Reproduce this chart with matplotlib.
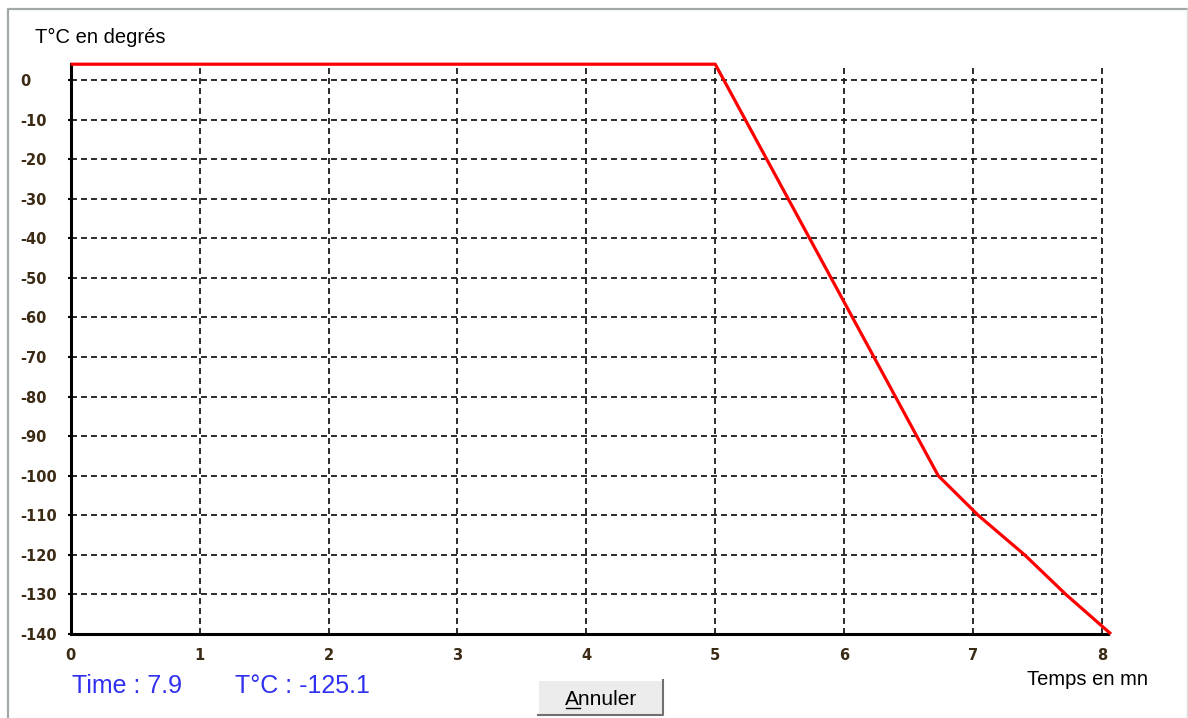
import matplotlib
matplotlib.use("Agg")
import matplotlib.pyplot as plt
from matplotlib.lines import Line2D
from matplotlib.patches import Rectangle

# courbe de temperature (temps en mn, T en degres)
temps = [0, 5.0, 6.73, 7.04, 7.40, 7.72, 8.07]
temperature = [4, 4, -100, -110, -120, -130, -140]

x_ticks = [0, 1, 2, 3, 4, 5, 6, 7, 8]
y_ticks = [0, -10, -20, -30, -40, -50, -60, -70, -80, -90, -100, -110, -120, -130, -140]

time_courant = 7.9
temp_courante = -125.1

plt.rcParams['lines.scale_dashes'] = False
W, H = 1188, 718
fig = plt.figure(figsize=(W / 100, H / 100), dpi=100)
fig.patch.set_facecolor('white')

ax = fig.add_axes([70.7 / W, 1 - 634 / H, 1037.7 / W, 569.8 / H])
ax.set_xlim(0, 8.05)
ax.set_ylim(-140, 4)

# grille en pointilles
ax.hlines([v for v in y_ticks if v > -140], 0, 8, colors='#1a1a1a', lw=1.3,
          linestyles=(0, (4.3, 2.9)), zorder=1)
ax.vlines([v for v in x_ticks if v > 0], -140, 4, colors='#1a1a1a', lw=1.3,
          linestyles=(0, (4.3, 2.9)), zorder=1)

ax.plot(temps, temperature, color='#ff0000', lw=2.3, clip_on=False, zorder=3,
        solid_capstyle='butt')

for s in ['top', 'right']:
    ax.spines[s].set_visible(False)
for s in ['left', 'bottom']:
    ax.spines[s].set_linewidth(2.2)
    ax.spines[s].set_color('black')
    ax.spines[s].set_zorder(2)

lab_col = '#3b2a14'
ax.set_xticks(x_ticks)
ax.set_xticklabels([str(v) for v in x_ticks], fontsize=10.5, color=lab_col,
                   family='DejaVu Sans', weight='bold')
ax.set_yticks(y_ticks)
ax.set_yticklabels([str(v) for v in y_ticks], fontsize=10.5, color=lab_col,
                   family='DejaVu Sans', weight='bold', ha='left')
ax.tick_params(axis='x', length=0, pad=10)
ax.tick_params(axis='y', length=2.5, width=1.5, pad=33.5)

fam = ['Liberation Sans', 'DejaVu Sans']
fig.text(35 / W, 1 - 43 / H, "T°C en degrés", fontsize=14.5, family=fam, va='baseline')
fig.text(1027 / W, 1 - 685 / H, "Temps en mn", fontsize=14.5, family=fam, va='baseline')
fig.text(72 / W, 1 - 693 / H, f"Time : {time_courant}", fontsize=18, family=fam,
         color='#3030f0', va='baseline')
fig.text(235 / W, 1 - 693 / H, f"T°C : {temp_courante}", fontsize=18, family=fam,
         color='#3030f0', va='baseline')

# bouton Annuler
fig.add_artist(Rectangle((538 / W, 1 - 715 / H), 125 / W, 35 / H, transform=fig.transFigure,
                         facecolor='#ececec', edgecolor='none'))
fig.add_artist(Line2D([538 / W, 538 / W, 663 / W], [1 - 715 / H, 1 - 680 / H, 1 - 680 / H],
                      transform=fig.transFigure, color='white', lw=1.5))
fig.add_artist(Line2D([538 / W, 663 / W, 663 / W], [1 - 715 / H, 1 - 715 / H, 1 - 680 / H],
                      transform=fig.transFigure, color='#707070', lw=1.5))
fig.text(601 / W, 1 - 705 / H, "Annuler", fontsize=15, family=fam, ha='center', va='baseline')
fig.add_artist(Line2D([566 / W, 580 / W], [1 - 708 / H, 1 - 708 / H],
                      transform=fig.transFigure, color='black', lw=1.0))

# bord de la fenetre
fig.add_artist(Line2D([8 / W, 8 / W, 1 - 0.5 / W], [0, 1 - 8.5 / H, 1 - 8.5 / H],
                      transform=fig.transFigure, color='#a0a8a8', lw=1.6))
fig.add_artist(Line2D([1186.5 / W, 1186.5 / W], [0, 1 - 9 / H],
                      transform=fig.transFigure, color='#dddddd', lw=1.0))

fig.savefig('out.png', dpi=100)
